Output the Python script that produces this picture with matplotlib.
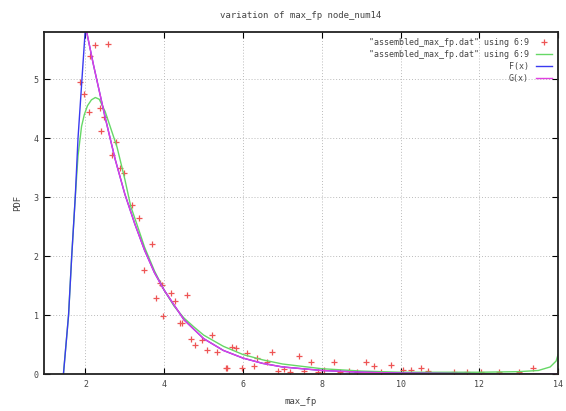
import matplotlib
matplotlib.use("Agg")
import matplotlib.pyplot as plt
import numpy as np

# ---- data ----
data_x = [1.87, 1.95, 2.08, 2.12, 2.25, 2.56, 2.37, 2.48, 2.40, 2.78, 2.67, 2.88, 2.97,
          3.18, 3.37, 3.48, 3.69, 3.80, 3.90, 3.94, 3.97, 4.16, 4.28, 4.41, 4.58, 4.45,
          4.69, 4.79, 4.96, 5.09, 5.21, 5.33, 5.57, 5.60, 5.73, 5.81, 5.98, 6.11, 6.27,
          6.36, 6.61, 6.74, 6.90, 7.05, 7.20, 7.42, 7.55, 7.72, 7.90, 8.05, 8.31, 8.45,
          8.70, 8.90, 9.12, 9.33, 9.50, 9.75, 10.05, 10.26, 10.52, 10.70, 11.36, 11.70,
          12.04, 12.50, 13.00, 13.36, 14.00]
data_y = [4.95, 4.75, 4.45, 5.40, 5.58, 5.60, 4.52, 4.36, 4.13, 3.93, 3.72, 3.49, 3.41,
          2.86, 2.65, 1.76, 2.21, 1.29, 1.54, 1.51, 0.98, 1.37, 1.23, 0.86, 1.34, 0.86,
          0.59, 0.49, 0.58, 0.41, 0.66, 0.38, 0.10, 0.10, 0.46, 0.44, 0.10, 0.35, 0.13,
          0.27, 0.21, 0.38, 0.05, 0.08, 0.04, 0.31, 0.05, 0.21, 0.04, 0.06, 0.21, 0.03,
          0.05, 0.04, 0.21, 0.14, 0.04, 0.15, 0.07, 0.07, 0.10, 0.05, 0.04, 0.04,
          0.03, 0.03, 0.04, 0.10, 0.00]

smooth_x = [1.44, 1.57, 1.65, 1.74, 1.81, 1.90, 1.97, 2.05, 2.15, 2.25, 2.35, 2.50, 2.65,
            2.80, 3.00, 3.15, 3.30, 3.50, 3.75, 4.00, 4.25, 4.50, 4.75, 5.00, 5.50, 6.00,
            6.50, 7.00, 8.00, 9.00, 10.00, 11.00, 12.00, 13.00, 13.50, 13.80, 13.95, 14.00]
smooth_y = [0.00, 1.00, 2.00, 3.00, 3.70, 4.20, 4.40, 4.55, 4.65, 4.69, 4.66, 4.45, 4.15,
            3.85, 3.30, 2.84, 2.55, 2.15, 1.75, 1.42, 1.15, 0.95, 0.80, 0.66, 0.47, 0.33,
            0.24, 0.17, 0.09, 0.05, 0.03, 0.03, 0.03, 0.04, 0.06, 0.12, 0.22, 0.33]

F_x = [1.44, 1.57, 1.65, 1.74, 1.81, 1.91, 2.00, 2.20, 2.50, 2.75, 3.00, 3.25, 3.50,
       3.75, 4.00, 4.50, 5.00, 5.50, 6.00, 6.50, 7.00, 8.00, 9.00, 10.00, 12.00, 14.00]
F_y = [0.00, 1.00, 2.00, 3.00, 4.00, 5.00, 5.90, 5.25, 4.35, 3.65, 3.05, 2.55, 2.10,
       1.72, 1.42, 0.92, 0.60, 0.40, 0.27, 0.18, 0.12, 0.06, 0.03, 0.015, 0.005, 0.00]

G_x = [2.00, 2.20, 2.50, 2.75, 3.00, 3.25, 3.50, 3.75, 4.00, 4.50, 5.00, 5.50, 6.00,
       6.50, 7.00, 8.00, 9.00, 10.00, 12.00, 14.00]
G_y = [5.90, 5.25, 4.35, 3.65, 3.05, 2.55, 2.10, 1.72, 1.42, 0.92, 0.60, 0.40, 0.27,
       0.18, 0.12, 0.06, 0.03, 0.015, 0.005, 0.00]

x_ticks = [2, 4, 6, 8, 10, 12, 14]
y_ticks = [0, 1, 2, 3, 4, 5]

title = "variation of max_fp node_num14"
xlabel = "max_fp"
ylabel = "PDF"
labels = ['"assembled_max_fp.dat" using 6:9', '"assembled_max_fp.dat" using 6:9', 'F(x)', 'G(x)']

# ---- plotting ----
plt.rcParams['font.family'] = ['DejaVu Sans Mono', 'DejaVu Sans']
fig = plt.figure(figsize=(5.66, 4.11), dpi=100)
ax = fig.add_axes([0.078, 0.09, 0.908, 0.832])

ax.grid(True, color='#bbbbbb', linestyle=(0, (1, 2)), linewidth=0.7)
ax.set_axisbelow(True)

ax.plot(data_x, data_y, linestyle='none', marker='+', color='#ee5555', markersize=4,
        markeredgewidth=0.9, label=labels[0])
ax.plot(smooth_x, smooth_y, color='#66d866', linewidth=1.0, label=labels[1])
ax.plot(F_x, F_y, color='#3a3af0', linewidth=1.0, label=labels[2])
ax.plot(G_x, G_y, color='#e040e0', linewidth=1.0, label=labels[3])

ax.set_xlim(0.95, 14)
ax.set_ylim(0, 5.8)
ax.set_xticks(x_ticks)
ax.set_yticks(y_ticks)
ax.tick_params(direction='in', top=True, right=True, length=4, width=0.8,
               labelsize=6, colors='black', labelcolor='#444444', pad=4)
for s in ax.spines.values():
    s.set_linewidth(1.3)
    s.set_color('#222222')

ax.set_title(title, fontsize=6.5, color='#444444', pad=10)
ax.set_xlabel(xlabel, fontsize=6.5, color='#444444', labelpad=6)
ax.set_ylabel(ylabel, fontsize=6.5, color='#444444', labelpad=8)

leg = ax.legend(loc='upper right', frameon=False, fontsize=6, markerfirst=False,
                handlelength=2.0, handletextpad=0.8, labelspacing=0.35,
                borderaxespad=0.3)
for t in leg.get_texts():
    t.set_color('#444444')
leg._legend_box.align = 'right'

fig.savefig('out.png', dpi=100)
